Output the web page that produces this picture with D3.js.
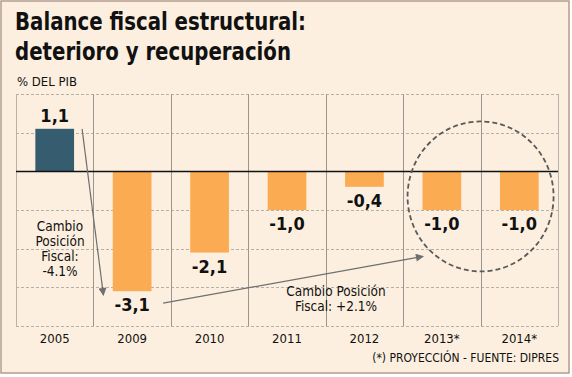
<!DOCTYPE html>
<html>
<head>
<meta charset="utf-8">
<style>
  * { margin: 0; padding: 0; }
  body { background: #fff; }
  svg { display: block; font-family: "DejaVu Sans Condensed", "DejaVu Sans", Verdana, sans-serif; font-stretch: condensed; }
</style>
</head>
<body>
<div id="chart"></div>
<script src="https://cdn.jsdelivr.net/npm/d3@7"></script>
<script>
const years = ['2005', '2009', '2010', '2011', '2012', '2013*', '2014*'];
const balance = [1.1, -3.1, -2.1, -1.0, -0.4, -1.0, -1.0];
const valueLabels = ['1,1', '-3,1', '-2,1', '-1,0', '-0,4', '-1,0', '-1,0'];
const gridValues = [2, 1, -1, -2, -3, -4];
const titleLines = ['Balance fiscal estructural:', 'deterioro y recuperación'];
const noteLeft = ['Cambio', 'Posición', 'Fiscal:', '-4.1%'];
const noteRight = ['Cambio Posición', 'Fiscal: +2.1%'];

(function() {
const width = 572, height = 377;
const plotL = 16, plotR = 558, plotT = 94, plotB = 326;

const svg = d3.select('#chart').append('svg')
  .attr('width', width).attr('height', height);

svg.append('rect').attr('x', 1).attr('y', 1).attr('width', 568).attr('height', 372)
  .attr('fill', '#fcefdf').attr('stroke', '#b29c8e').attr('stroke-width', 1.5);

const x = d3.scaleBand().domain(years).range([plotL, plotR]).paddingInner(0).paddingOuter(0);
const y = d3.scaleLinear().domain([-4, 2]).range([plotB, plotT]);
const bw = x.bandwidth() * 0.5;

// gridlines
svg.append('g').selectAll('line').data(gridValues).join('line')
  .attr('x1', plotL).attr('x2', plotR)
  .attr('y1', d => Math.round(y(d)) + 0.5).attr('y2', d => Math.round(y(d)) + 0.5)
  .attr('stroke', '#b5b0a8').attr('stroke-dasharray', '3,2');

// column separators
const seps = years.map(d => x(d)).concat([plotR]);
svg.append('g').selectAll('line').data(seps).join('line')
  .attr('x1', d => Math.round(d) + 0.5).attr('x2', d => Math.round(d) + 0.5)
  .attr('y1', plotT).attr('y2', plotB)
  .attr('stroke', (d, i) => (i === 0 || i === seps.length - 1) ? '#b8b2aa' : '#9a958f')
  .attr('stroke-width', 1);

// bars
svg.append('g').selectAll('rect').data(balance).join('rect')
  .attr('x', (d, i) => x(years[i]) + (x.bandwidth() - bw) / 2)
  .attr('width', bw)
  .attr('y', d => y(Math.max(0, d)))
  .attr('height', d => Math.abs(y(d) - y(0)))
  .attr('fill', d => d > 0 ? '#365c70' : '#fbab52');

// zero line
svg.append('line').attr('x1', plotL).attr('x2', plotR)
  .attr('y1', Math.round(y(0)) + 0.5).attr('y2', Math.round(y(0)) + 0.5)
  .attr('stroke', '#111').attr('stroke-width', 1.3);

// value labels
svg.append('g').selectAll('text').data(balance).join('text')
  .attr('x', (d, i) => x(years[i]) + x.bandwidth() / 2)
  .attr('y', d => d > 0 ? y(d) - 7 : y(d) + 20)
  .attr('text-anchor', 'middle')
  .attr('font-size', 18).attr('font-weight', 'bold').attr('fill', '#111')
  .text((d, i) => valueLabels[i]);

// year axis
svg.append('g').selectAll('text').data(years).join('text')
  .attr('x', d => x(d) + x.bandwidth() / 2)
  .attr('y', plotB + 17)
  .attr('text-anchor', 'middle')
  .attr('font-size', 13).attr('fill', '#111')
  .text(d => d);

// title
const titleLens = [291, 276];
svg.append('g').selectAll('text').data(titleLines).join('text')
  .attr('x', 15).attr('y', (d, i) => 30 + i * 30)
  .attr('font-size', 25).attr('font-weight', 'bold').attr('fill', '#111')
  .attr('textLength', (d, i) => titleLens[i]).attr('lengthAdjust', 'spacingAndGlyphs')
  .text(d => d);

svg.append('text').attr('x', 17).attr('y', 86).attr('font-size', 13).attr('fill', '#111')
  .text('% DEL PIB');

svg.append('text').attr('x', 559).attr('y', 362).attr('text-anchor', 'end')
  .attr('font-size', 12).attr('fill', '#111')
  .text('(*) PROYECCIÓN - FUENTE: DIPRES');

// arrows
svg.append('defs').append('marker')
  .attr('id', 'head').attr('viewBox', '0 0 10 10').attr('refX', 9).attr('refY', 5)
  .attr('markerWidth', 9).attr('markerHeight', 8).attr('markerUnits', 'userSpaceOnUse')
  .attr('orient', 'auto')
  .append('path').attr('d', 'M0,0L10,5L0,10Z').attr('fill', '#6f6f6f');

const b0 = x(years[0]) + (x.bandwidth() + bw) / 2;
svg.append('line')
  .attr('x1', b0 + 8).attr('y1', y(balance[0]))
  .attr('x2', x(years[1]) + 10).attr('y2', y(balance[1]) + 4)
  .attr('stroke', '#6f6f6f').attr('stroke-width', 1.2).attr('marker-end', 'url(#head)');
svg.append('line')
  .attr('x1', x(years[1]) + x.bandwidth() * 0.9).attr('y1', y(balance[1]) + 12)
  .attr('x2', x(years[5]) + 20).attr('y2', y(-2.2))
  .attr('stroke', '#6f6f6f').attr('stroke-width', 1.2).attr('marker-end', 'url(#head)');

// projection circle
svg.append('ellipse')
  .attr('cx', x(years[6])).attr('cy', y(-0.65))
  .attr('rx', 73).attr('ry', 75)
  .attr('fill', 'none').attr('stroke', '#5a5a5a').attr('stroke-width', 1.8)
  .attr('stroke-dasharray', '5,3');

// notes
svg.append('g').selectAll('text').data(noteLeft).join('text')
  .attr('x', 60).attr('y', (d, i) => 231 + i * 15)
  .attr('text-anchor', 'middle').attr('font-size', 13.5).attr('fill', '#111')
  .text(d => d);
svg.append('g').selectAll('text').data(noteRight).join('text')
  .attr('x', 336).attr('y', (d, i) => 296 + i * 15)
  .attr('text-anchor', 'middle').attr('font-size', 13.5).attr('fill', '#111')
  .text(d => d);
})();
</script>
</body>
</html>
